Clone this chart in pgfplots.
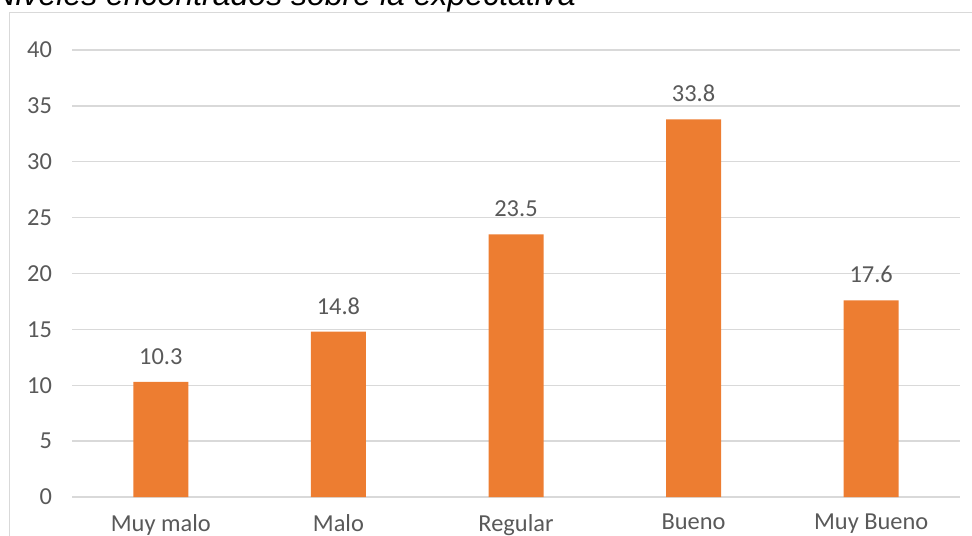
\documentclass[border=0pt]{standalone}
\usepackage{pgfplots}
\pgfplotsset{compat=1.18}
\usepackage{fontspec}
\setmainfont{Carlito}
\newfontfamily\titlefont{Liberation Sans}
\definecolor{barorange}{HTML}{ED7D31}
\definecolor{gridgray}{HTML}{D9D9D9}
\definecolor{textgray}{HTML}{595959}
\begin{document}
\begin{tikzpicture}
\useasboundingbox (0,0) rectangle (486pt,267.5pt);
\draw[gridgray, line width=0.75pt] (4.75pt,-5pt) -- (4.75pt,261.25pt) -- (495pt,261.25pt);
\node[anchor=base west, inner sep=0pt, font=\titlefont\itshape\fontsize{16}{19}\selectfont] at (-4pt,264.5pt) {Niveles encontrados sobre la expectativa};
\begin{axis}[
  at={(36pt,19pt)}, anchor=south west,
  scale only axis, width=444pt, height=223.5pt,
  xmin=-0.5, xmax=4.5, ymin=0, ymax=40,
  ytick={0,5,...,40},
  xtick={0,1,2,3,4},
  xticklabels={Muy malo, Malo, Regular, Bueno, Muy Bueno},
  axis line style={draw=none},
  ymajorgrids, grid style={gridgray, line width=0.75pt},
  major tick length=0pt,
  tick label style={font=\fontsize{12.2}{14}\selectfont, text=textgray},
  /pgf/number format/assume math mode=true,
  yticklabel style={xshift=-6.5pt},
  xticklabel style={yshift=-5pt},
  ybar, bar width=27.5pt,
  nodes near coords={\pgfmathprintnumber[fixed,precision=1,fixed zerofill,assume math mode=true]{\pgfplotspointmeta}},
  every node near coord/.append style={font=\fontsize{12.2}{14}\selectfont, text=textgray, inner sep=0pt, yshift=8.5pt},
]
\addplot[fill=barorange, draw=none] coordinates {(0,10.3) (1,14.8) (2,23.5) (3,33.8) (4,17.6)};
\end{axis}
\end{tikzpicture}
\end{document}
